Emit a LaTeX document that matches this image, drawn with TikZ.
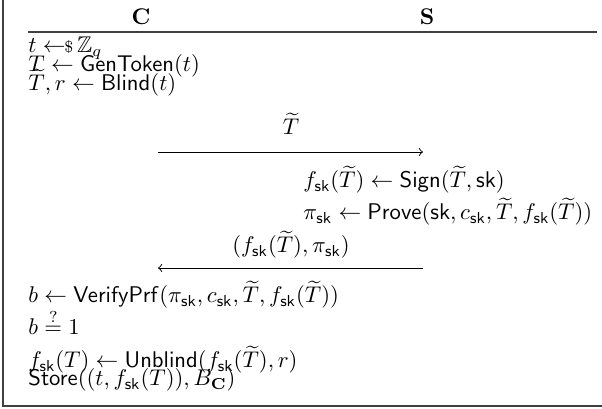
\documentclass[tikz,border=0pt]{standalone}
\usepackage{amsmath}
\usepackage{amssymb}
\usetikzlibrary{arrows}

\newcommand{\skey}{\mathsf{sk}}
\newcommand{\Tt}{\widetilde{T}}
\newcommand{\samp}{\leftarrow\!\!{\scriptstyle\$}\,}

\begin{document}
\begin{tikzpicture}[x=0.441pt,y=-0.441pt,->,>=to,
  party/.style={font=\bfseries,anchor=base,inner sep=0pt},
  line node/.style={anchor=base west,inner sep=0pt},
  msg node/.style={anchor=base,inner sep=0pt},
  rule line/.style={-,line width=0.6pt,black!75}]

  \useasboundingbox (0,0) rectangle (602,409);
  % frame, cut at top and right
  \draw[rule line] (3,-5) -- (3,406) -- (610,406);

  \node[party] (C) at (141,25) {C};
  \node[party] (S) at (427,25) {S};
  \draw[rule line] (28,32) -- (597,32);

  % client, first part
  \node[line node] (c1) at (28,53) {$t \samp \mathbb{Z}_q$};
  \node[line node] (c2) at (28,72) {$T \leftarrow \mathsf{GenToken}(t)$};
  \node[line node] (c3) at (28,91) {$\Tt, r \leftarrow \mathsf{Blind}(t)$};

  \coordinate (m1l) at (158,152);
  \coordinate (m1r) at (423,152);
  \node[msg node] (m1) at (291,135) {$\Tt$};
  \draw (m1l) -- (m1r);

  % server
  \node[line node] (s1) at (303,188) {$f_{\skey}(\Tt) \leftarrow \mathsf{Sign}(\Tt, \skey)$};
  \node[line node] (s2) at (303,220) {$\pi_{\skey} \leftarrow \mathsf{Prove}(\skey, c_{\skey}, \Tt, f_{\skey}(\Tt))$};

  \coordinate (m2l) at (158,268);
  \coordinate (m2r) at (423,268);
  \node[msg node] (m2) at (291,253) {$(f_{\skey}(\Tt), \pi_{\skey})$};
  \draw (m2r) -- (m2l);

  % client, second part
  \node[line node] (c4) at (28,303) {$b \leftarrow \mathsf{VerifyPrf}(\pi_{\skey}, c_{\skey}, \Tt, f_{\skey}(\Tt))$};
  \node[line node] (c5) at (28,335) {$b \stackrel{?}{=} 1$};
  \node[line node] (c6) at (28,368) {$f_{\skey}(T) \leftarrow \mathsf{Unblind}(f_{\skey}(\Tt), r)$};
  \node[line node] (c7) at (28,386) {$\mathsf{Store}((t, f_{\skey}(T)), B_{\mathbf{C}})$};

\end{tikzpicture}
\end{document}
